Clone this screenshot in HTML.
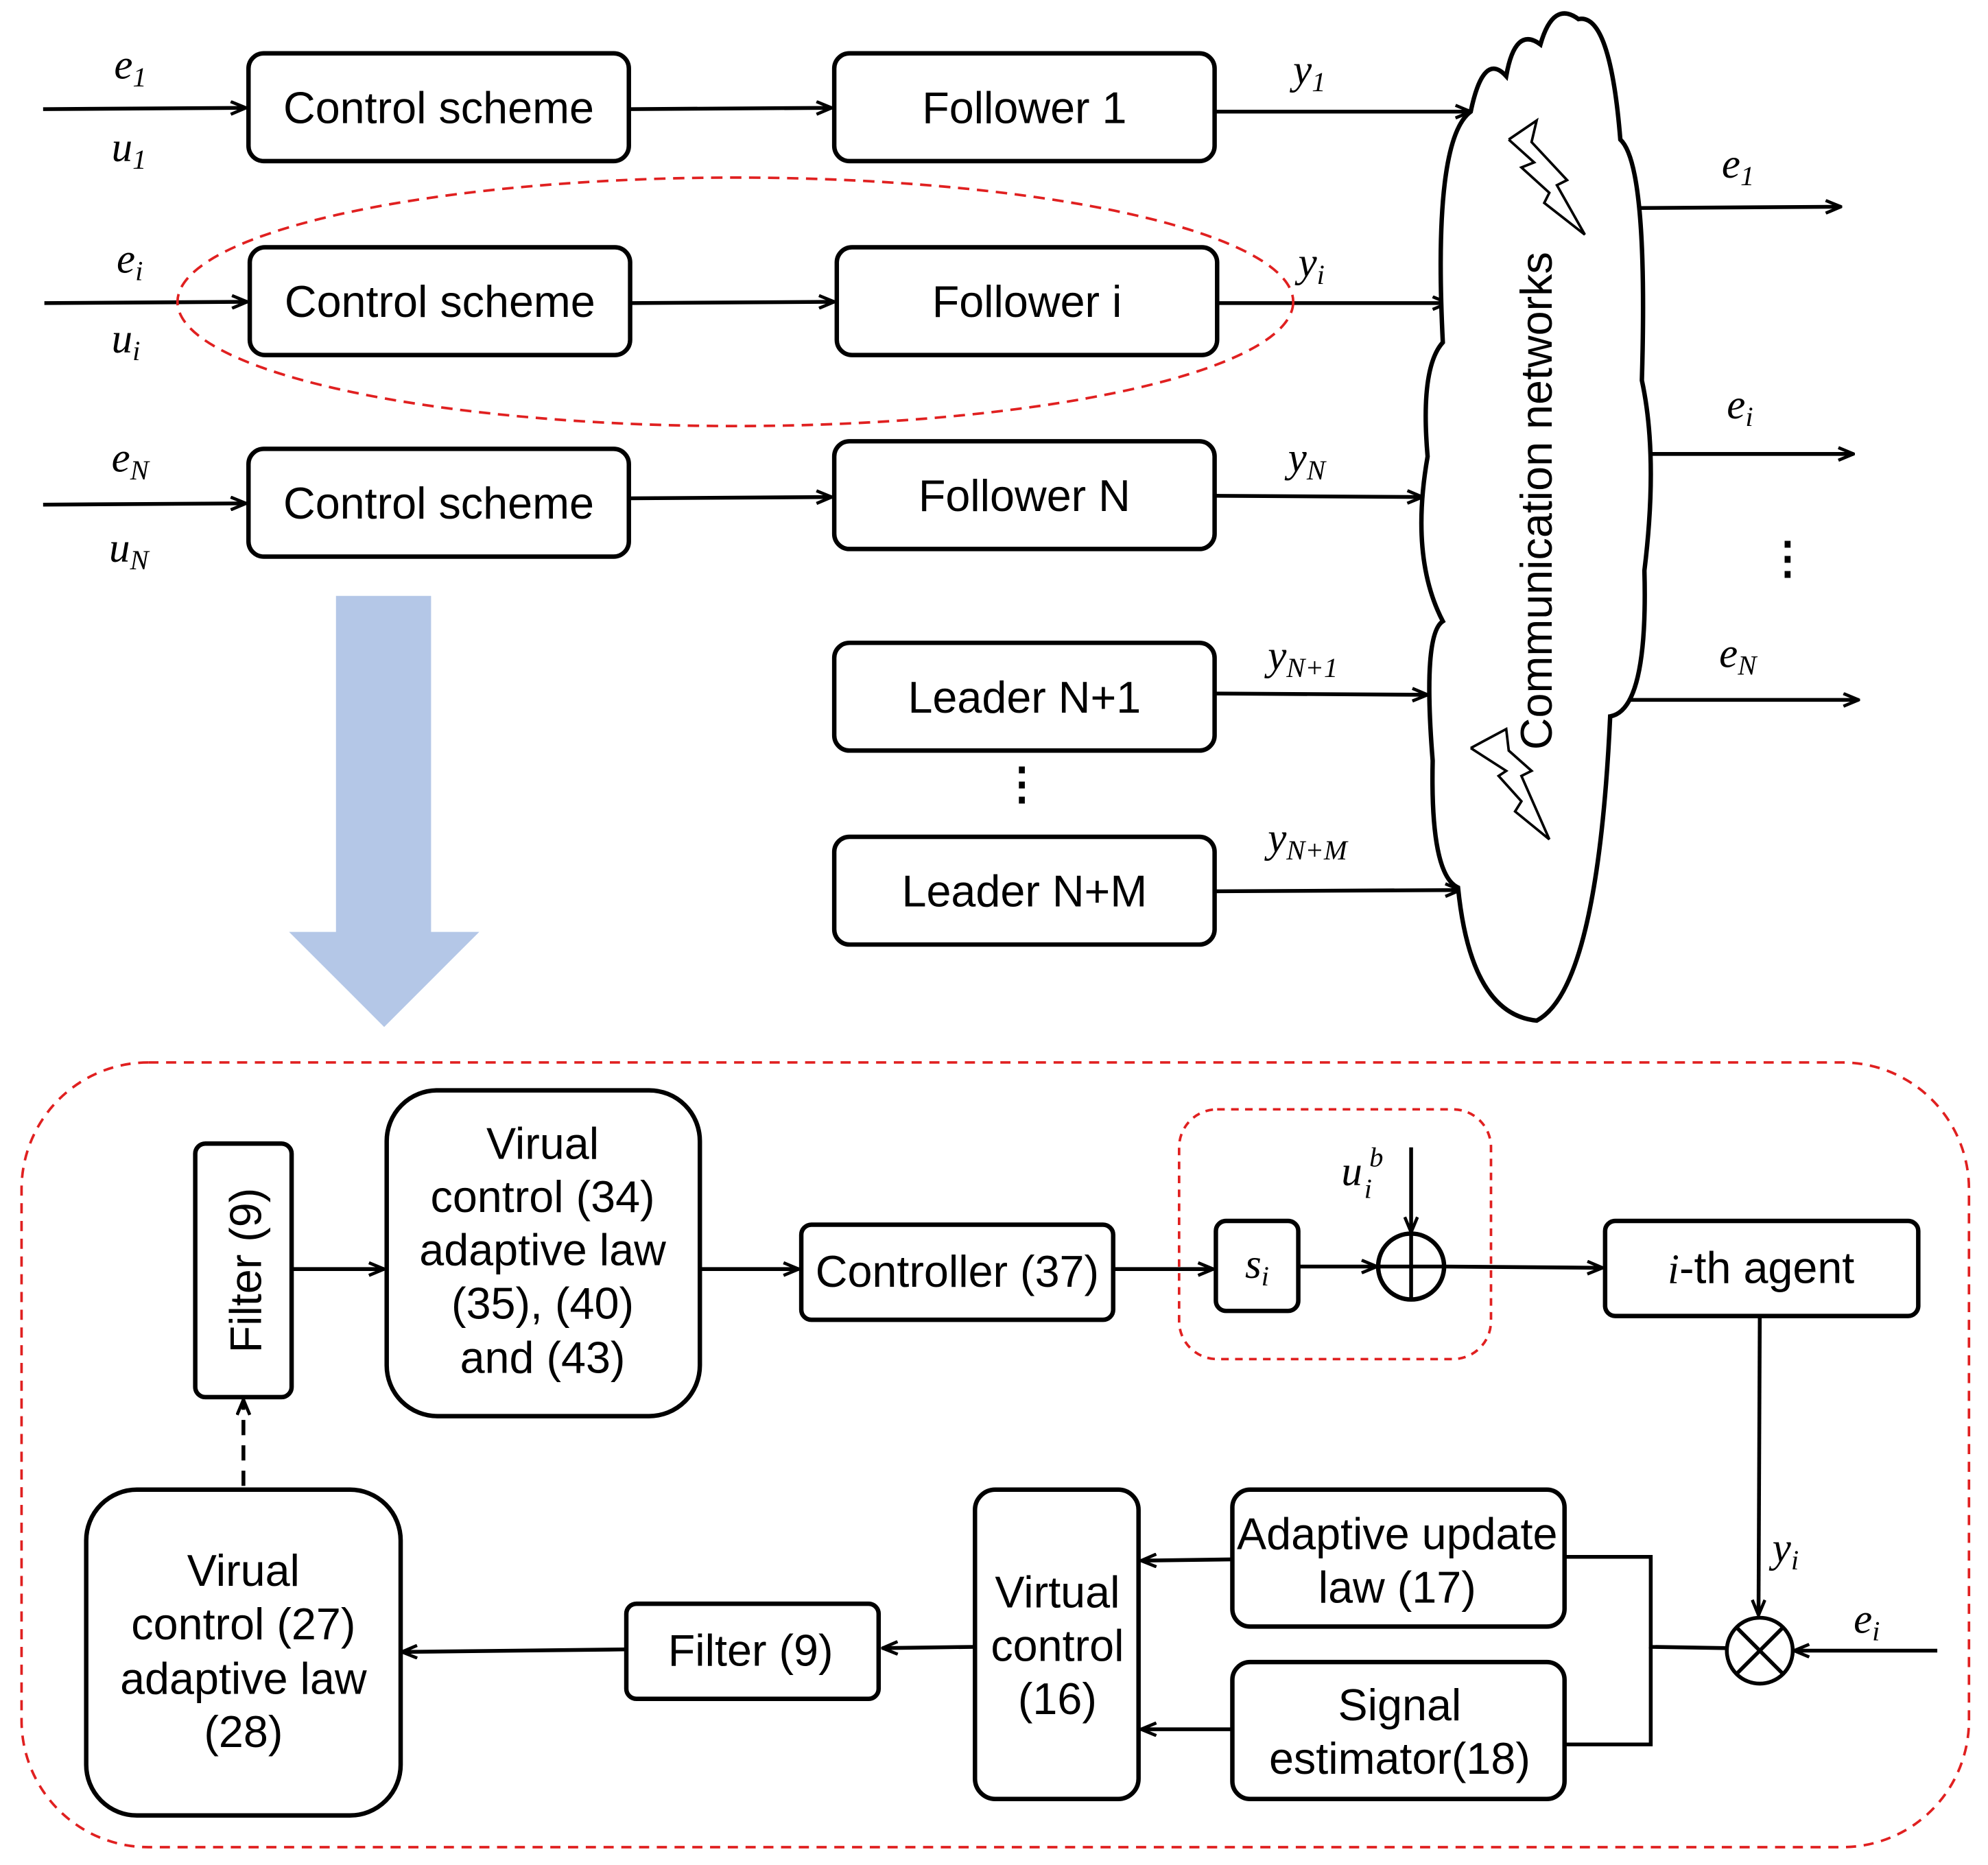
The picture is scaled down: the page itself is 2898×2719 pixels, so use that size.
<!DOCTYPE html>
<html><head><meta charset="utf-8"><style>
html,body{margin:0;padding:0;background:#fff;}
svg{display:block}
text{font-family:"Liberation Sans",sans-serif;font-size:35px;fill:#000}
.m{font-family:"Liberation Serif",serif;font-style:italic;font-size:33px}
.s{font-family:"Liberation Serif",serif;font-style:italic;font-size:22px}
.b{fill:#fff;stroke:#000;stroke-width:3.5}
.l{stroke:#000;stroke-width:3;fill:none}
</style></head><body>
<svg width="2898" height="2719" viewBox="0 0 1568 1471" xmlns="http://www.w3.org/2000/svg">
<defs><marker id="a" markerWidth="14" markerHeight="12" refX="13" refY="6" orient="auto" markerUnits="userSpaceOnUse"><path d="M1,1 L13,6 L1,11" fill="none" stroke="#000" stroke-width="2.5"/></marker></defs>

<g class="l" marker-end="url(#a)">
<line x1="34" y1="86" x2="194" y2="85"/><line x1="496" y1="86" x2="656" y2="85"/><line x1="958" y1="88" x2="1160" y2="88"/>
<line x1="35" y1="239" x2="195" y2="238"/><line x1="497" y1="239" x2="658" y2="238"/><line x1="960" y1="239" x2="1142" y2="239"/>
<line x1="34" y1="398" x2="194" y2="397"/><line x1="496" y1="393" x2="656" y2="392"/><line x1="958" y1="391" x2="1122" y2="392"/>
<line x1="958" y1="547" x2="1126" y2="548"/><line x1="958" y1="703" x2="1152" y2="702"/>
<line x1="1293" y1="164" x2="1452" y2="163"/><line x1="1298" y1="358" x2="1462" y2="358"/><line x1="1283" y1="552" x2="1466" y2="552"/>
</g>
<rect class="b" x="196" y="42" width="300" height="85" rx="12"/><text x="346" y="97" text-anchor="middle">Control scheme</text>
<rect class="b" x="658" y="42" width="300" height="85" rx="12"/><text x="808" y="97" text-anchor="middle">Follower 1</text>
<rect class="b" x="197" y="195" width="300" height="85" rx="12"/><text x="347" y="250" text-anchor="middle">Control scheme</text>
<rect class="b" x="660" y="195" width="300" height="85" rx="12"/><text x="810" y="250" text-anchor="middle">Follower i</text>
<rect class="b" x="196" y="354" width="300" height="85" rx="12"/><text x="346" y="409" text-anchor="middle">Control scheme</text>
<rect class="b" x="658" y="348" width="300" height="85" rx="12"/><text x="808" y="403" text-anchor="middle">Follower N</text>
<rect class="b" x="658" y="507" width="300" height="85" rx="12"/><text x="808" y="562" text-anchor="middle">Leader N+1</text>
<rect class="b" x="658" y="660" width="300" height="85" rx="12"/><text x="808" y="715" text-anchor="middle">Leader N+M</text>
<text x="806" y="630" text-anchor="middle" font-weight="bold" font-size="40">⋮</text>
<ellipse cx="580" cy="238" rx="440" ry="98" fill="none" stroke="#e02020" stroke-width="2" stroke-dasharray="9,6"/>

<text class="m" x="90" y="62">e<tspan class="s" dy="6">1</tspan></text>
<text class="m" x="88" y="127">u<tspan class="s" dy="6">1</tspan></text>
<text class="m" x="92" y="215">e<tspan class="s" dy="6">i</tspan></text>
<text class="m" x="88" y="278">u<tspan class="s" dy="6">i</tspan></text>
<text class="m" x="88" y="372">e<tspan class="s" dy="6">N</tspan></text>
<text class="m" x="86" y="443">u<tspan class="s" dy="6">N</tspan></text>
<text class="m" x="1020" y="66">y<tspan class="s" dy="6">1</tspan></text>
<text class="m" x="1024" y="218">y<tspan class="s" dy="6">i</tspan></text>
<text class="m" x="1016" y="372">y<tspan class="s" dy="6">N</tspan></text>
<text class="m" x="1000" y="528">y<tspan class="s" dy="6">N+1</tspan></text>
<text class="m" x="1000" y="672">y<tspan class="s" dy="6">N+M</tspan></text>
<text class="m" x="1358" y="140">e<tspan class="s" dy="6">1</tspan></text>
<text class="m" x="1362" y="330">e<tspan class="s" dy="6">i</tspan></text>
<text class="m" x="1356" y="526">e<tspan class="s" dy="6">N</tspan></text>
<text x="1410" y="452" text-anchor="middle" font-weight="bold" font-size="40">⋮</text>

<path d="M1160,88 Q1170,40 1188,60 Q1195,20 1215,35 Q1225,0 1245,15 Q1270,10 1278,110 Q1300,130 1295,300 Q1308,360 1297,450 Q1300,560 1270,565 Q1260,780 1212,805 Q1160,800 1150,700 Q1128,690 1130,600 Q1122,500 1138,490 Q1112,440 1126,360 Q1120,290 1138,270 Q1130,110 1160,88 Z" fill="#fff" stroke="#000" stroke-width="3.5"/>
<polyline points="1190,110 1212,95 1208,112 1236,142 1228,146 1250,185 1218,160 1222,152 1200,132 1210,128 1190,110" fill="none" stroke="#000" stroke-width="2"/>
<polyline points="1160,590 1188,575 1190,592 1208,608 1200,612 1222,662 1195,640 1200,632 1182,612 1188,608 1160,590" fill="none" stroke="#000" stroke-width="2"/>
<text transform="translate(1224,395) rotate(-90)" text-anchor="middle" font-size="34">Communication networks</text>

<polygon points="265,470 340,470 340,735 378,735 303,810 228,735 265,735" fill="#b4c7e7"/>

<rect x="17" y="838" width="1536" height="619" rx="100" fill="none" stroke="#e02020" stroke-width="2" stroke-dasharray="8,6"/>
<rect x="930" y="875" width="246" height="197" rx="30" fill="none" stroke="#e02020" stroke-width="2" stroke-dasharray="6,5"/>
<g class="l" marker-end="url(#a)">
<line x1="230" y1="1001" x2="303" y2="1001"/>
<line x1="552" y1="1001" x2="630" y2="1001"/>
<line x1="878" y1="1001" x2="957" y2="1001"/>
<line x1="1024" y1="999" x2="1086" y2="999"/>
<line x1="1113" y1="905" x2="1113" y2="972"/>
<line x1="1139" y1="999" x2="1264" y2="1000"/>
<line x1="1388" y1="1038" x2="1387" y2="1274"/>
<line x1="1528" y1="1302" x2="1415" y2="1302"/>
<line x1="972" y1="1230" x2="900" y2="1231"/>
<line x1="972" y1="1364" x2="900" y2="1364"/>
<line x1="769" y1="1299" x2="696" y2="1300"/>
<line x1="494" y1="1301" x2="317" y2="1303"/>
<line x1="192" y1="1172" x2="192" y2="1104" stroke-dasharray="12,8"/>
</g>
<polyline class="l" points="1362,1300 1302,1299 1302,1228 1234,1228"/>
<polyline class="l" points="1302,1299 1302,1376 1234,1376"/>

<rect class="b" x="154" y="902" width="76" height="200" rx="8"/><text transform="translate(206,1002) rotate(-90)" text-anchor="middle">Filter (9)</text>
<rect class="b" x="305" y="860" width="247" height="257" rx="40"/>
<text x="428" y="914" text-anchor="middle">Virual</text><text x="428" y="956" text-anchor="middle">control (34)</text><text x="428" y="998" text-anchor="middle">adaptive law</text><text x="428" y="1040" text-anchor="middle">(35), (40)</text><text x="428" y="1083" text-anchor="middle">and (43)</text>
<rect class="b" x="632" y="966" width="246" height="75" rx="8"/><text x="755" y="1015" text-anchor="middle">Controller (37)</text>
<rect class="b" x="959" y="963" width="65" height="71" rx="8"/><text class="m" x="982" y="1008">s<tspan class="s" dy="6">i</tspan></text>
<circle cx="1113" cy="999" r="26" fill="none" stroke="#000" stroke-width="3.5"/><line class="l" x1="1087" y1="999" x2="1139" y2="999"/><line class="l" x1="1113" y1="973" x2="1113" y2="1025"/>
<text class="m" x="1058" y="935">u</text><text class="s" x="1076" y="945">i</text><text class="s" x="1080" y="920">b</text>
<rect class="b" x="1266" y="963" width="247" height="75" rx="8"/><text x="1389" y="1012" text-anchor="middle"><tspan class="m">i</tspan>-th agent</text>
<circle cx="1388" cy="1302" r="26" fill="#fff" stroke="#000" stroke-width="3"/><line class="l" x1="1370" y1="1284" x2="1406" y2="1320"/><line class="l" x1="1406" y1="1284" x2="1370" y2="1320"/>
<text class="m" x="1398" y="1232">y<tspan class="s" dy="6">i</tspan></text>
<text class="m" x="1462" y="1288">e<tspan class="s" dy="6">i</tspan></text>
<rect class="b" x="972" y="1175" width="262" height="108" rx="14"/><text x="1102" y="1222" text-anchor="middle">Adaptive update</text><text x="1102" y="1264" text-anchor="middle">law (17)</text>
<rect class="b" x="972" y="1311" width="262" height="108" rx="14"/><text x="1104" y="1357" text-anchor="middle">Signal</text><text x="1104" y="1399" text-anchor="middle">estimator(18)</text>
<rect class="b" x="769" y="1175" width="129" height="244" rx="16"/><text x="834" y="1268" text-anchor="middle">Virtual</text><text x="834" y="1310" text-anchor="middle">control</text><text x="834" y="1352" text-anchor="middle">(16)</text>
<rect class="b" x="494" y="1265" width="199" height="75" rx="8"/><text x="592" y="1314" text-anchor="middle">Filter (9)</text>
<rect class="b" x="68" y="1175" width="248" height="257" rx="40"/>
<text x="192" y="1251" text-anchor="middle">Virual</text><text x="192" y="1293" text-anchor="middle">control (27)</text><text x="192" y="1336" text-anchor="middle">adaptive law</text><text x="192" y="1378" text-anchor="middle">(28)</text>
</svg>
</body></html>
